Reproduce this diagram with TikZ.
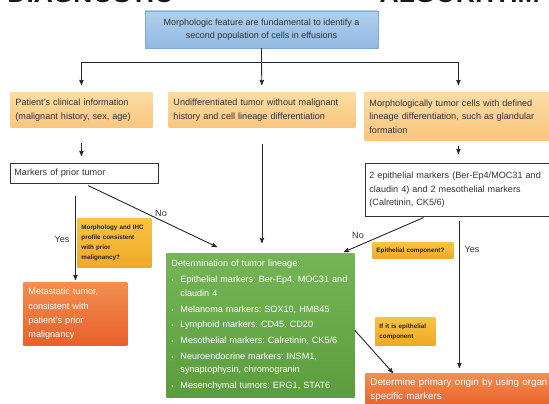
\documentclass[tikz,border=0pt]{standalone}
\usepackage{fontspec}
\setmainfont{Liberation Sans}
\usetikzlibrary{arrows,positioning}
\frenchspacing

\definecolor{featuretop}{HTML}{B0D0EE}
\definecolor{featurebottom}{HTML}{92B9E2}
\definecolor{featureedge}{HTML}{7FA8D3}
\definecolor{infotop}{HTML}{FCDCA4}
\definecolor{infobottom}{HTML}{F8C67E}
\definecolor{asktop}{HTML}{F8C441}
\definecolor{askbottom}{HTML}{F1A829}
\definecolor{resulttop}{HTML}{F28E50}
\definecolor{resultbottom}{HTML}{E9602A}
\definecolor{lineagetop}{HTML}{74B655}
\definecolor{lineagebottom}{HTML}{5C9C3E}

\newcommand{\lineageitem}[1]{\par\vspace{2.3pt}\hangindent=9pt\hangafter=1\makebox[9pt][l]{\fontsize{6}{6}\selectfont\textbullet}#1}

\begin{document}
\begin{tikzpicture}[x=1pt,y=-1pt,>=stealth',line width=0.9pt,
  featurebox/.style={rectangle, align=center, draw=featureedge, line width=0.6pt, top color=featuretop, bottom color=featurebottom, inner sep=0pt, text=black!80, font=\fontsize{9}{13.5}\selectfont},
  infobox/.style={rectangle, anchor=north west, align=left, inner xsep=5pt, inner ysep=0pt, top color=infotop, bottom color=infobottom, text=black!80, font=\fontsize{9.1}{13.5}\selectfont},
  markerbox/.style={rectangle, anchor=north west, align=left, inner xsep=4pt, inner ysep=0pt, fill=white, draw=black!80, line width=0.8pt, text=black!80, font=\fontsize{9.1}{13.5}\selectfont},
  askbox/.style={rectangle, anchor=north west, align=left, inner xsep=4pt, inner ysep=0pt, top color=asktop, bottom color=askbottom, text=black!85, font=\fontsize{6.3}{10}\selectfont\bfseries},
  resultbox/.style={rectangle, anchor=north west, align=left, inner xsep=5pt, inner ysep=0pt, top color=resulttop, bottom color=resultbottom, text=white, font=\fontsize{9.1}{14.3}\selectfont},
  lineagebox/.style={rectangle, anchor=north west, align=left, inner xsep=5pt, inner ysep=0pt, top color=lineagetop, bottom color=lineagebottom, text=white, font=\fontsize{9.1}{13.5}\selectfont},
  heading/.style={inner sep=0pt, text=black!90, font=\fontsize{26.4}{27}\selectfont\bfseries},
  answer/.style={inner sep=1pt, text=black!80, font=\fontsize{9.1}{11}\selectfont},
  flow/.style={->, draw=black!85}]
  \useasboundingbox (0,0) rectangle (549,404);
  \clip (0,0) rectangle (549,404);

  \node (diag) [heading, anchor=base west] at (7,3) {DIAGNOSTIC};
  \node (algo) [heading, anchor=base east] at (540,3) {ALGORITHM};

  \node (feature) [featurebox, minimum width=233pt, minimum height=37pt] at (261.5,29.5)
    {Morphologic feature are fundamental to identify a\\second population of cells in effusions};
  \coordinate (split) at (261.5,62);
  \node (clinical) [infobox, text width=132pt, minimum height=35pt] at (10,92)
    {Patient's clinical information\\(malignant history, sex, age)};
  \node (undiff) [infobox, text width=177pt, minimum height=35pt] at (168,92)
    {Undifferentiated tumor without malignant\\history and cell lineage differentiation};
  \node (morph) [infobox, text width=178pt, minimum height=48pt] at (364,92)
    {Morphologically tumor cells with defined\\lineage differentiation, such as glandular\\formation};
  \node (markers) [markerbox, text width=140pt, minimum height=20pt] at (10,163) {Markers of prior tumor};
  \node (epi) [markerbox, text width=182pt, minimum height=53pt] at (365,163)
    {2 epithelial markers (Ber-Ep4/MOC31 and\\claudin 4) and 2 mesothelial markers\\(Calretinin, CK5/6)};
  \node (ask) [askbox, text width=66pt, minimum height=49pt] at (77,218)
    {Morphology and IHC\\profile consistent\\with prior\\malignancy?};
  \node (meta) [resultbox, text width=94pt, minimum height=63pt] at (23,282)
    {Metastatic tumor,\\consistent with\\patient's prior\\malignancy};
  \node (lineage) [lineagebox, text width=178pt, minimum height=144pt] at (166,253)
    {Determination of tumor lineage:
     \lineageitem{Epithelial markers: Ber-Ep4, MOC31 and\hfil\break claudin 4}
     \lineageitem{Melanoma markers: SOX10, HMB45}
     \lineageitem{Lymphoid markers: CD45, CD20}
     \lineageitem{Mesothelial markers: Calretinin, CK5/6}
     \lineageitem{Neuroendocrine markers: INSM1,\hfil\break synaptophysin, chromogranin}
     \lineageitem{Mesenchymal tumors: ERG1, STAT6}};
  \node (epiask) [askbox, text width=73pt, minimum height=16pt] at (372,242) {Epithelial component?};
  \node (ifepi) [askbox, text width=52pt, minimum height=28pt] at (375,317) {If it is epithelial\\component};
  \node (origin) [resultbox, font=\fontsize{9.8}{14}\selectfont, text width=178pt, minimum height=34pt] at (365,373)
    {Determine primary origin by using organ\\specific markers};

  \node (no1) [answer] at (161,213) {No};
  \node (yes1) [answer] at (62,239) {Yes};
  \node (no2) [answer] at (358,235) {No};
  \node (yes2) [answer] at (472,249) {Yes};

  \draw [draw=black!85] (feature) -- (split);
  \draw [flow, shorten >=7pt] (split) -| (clinical.north);
  \draw [flow, shorten >=7pt] (split) -- (undiff.north);
  \draw [flow, shorten >=7pt] (split) -| (morph.north);
  \draw [flow, shorten <=15pt, shorten >=7pt] (clinical.south) -- (clinical.south |- markers.north);
  \draw [flow, shorten <=5pt, shorten >=9pt] (morph.south) -- (morph.south |- epi.north);
  \draw [flow, shorten <=16pt, shorten >=10pt] (undiff.south) -- (undiff.south |- lineage.north);
  \draw [flow, shorten <=12pt, shorten >=2pt] (meta.north |- markers.south) -- (meta.north);
  \draw [flow, shorten <=4pt] (markers.south) -- ([xshift=51pt,yshift=6pt]lineage.north west);
  \draw [flow, shorten <=2pt] ([xshift=-35pt]epi.south) -- ([xshift=-11pt,yshift=1pt]lineage.north east);
  \draw [flow, shorten <=4pt, shorten >=5pt] (origin.north |- epi.south) -- (origin.north);
  \draw [flow] ([yshift=-5pt]lineage.east) -- ([xshift=28pt]origin.north west);
\end{tikzpicture}
\end{document}
